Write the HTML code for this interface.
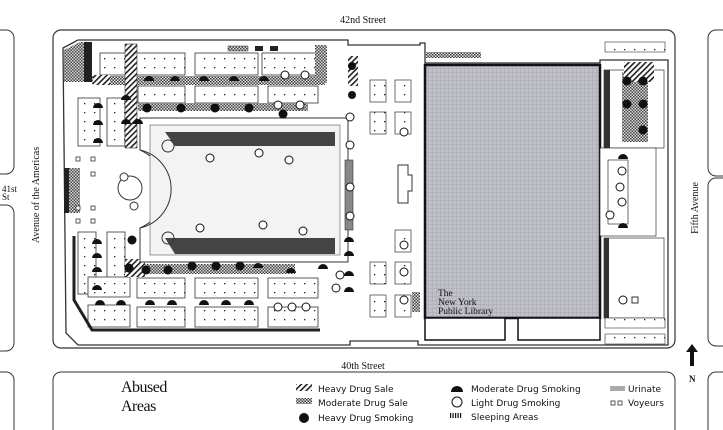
<!DOCTYPE html>
<html><head><meta charset="utf-8"><style>
html,body{margin:0;padding:0;background:#fff;width:723px;height:430px;overflow:hidden}
svg{display:block}
text{font-family:"Liberation Serif",serif;fill:#111}
.s{font-family:"DejaVu Sans","Liberation Sans",sans-serif;font-size:9px}
</style></head><body>
<svg width="723" height="430" viewBox="0 0 723 430" xmlns="http://www.w3.org/2000/svg" style="overflow:hidden">
<defs>
<pattern id="chk" width="3" height="3" patternUnits="userSpaceOnUse"><rect width="3" height="3" fill="#ddd"/><rect width="1.5" height="1.5" fill="#444"/><rect x="1.5" y="1.5" width="1.5" height="1.5" fill="#444"/></pattern>
<pattern id="hat" width="4" height="4" patternUnits="userSpaceOnUse" patternTransform="rotate(45)"><rect width="4" height="4" fill="#fff"/><rect width="1.6" height="4" fill="#222"/></pattern>
<pattern id="grid" width="4" height="4" patternUnits="userSpaceOnUse"><rect width="4" height="4" fill="#bfc0c8"/><rect width="4" height="0.6" fill="#a9aab2"/><rect width="0.6" height="4" fill="#a9aab2"/></pattern>
<pattern id="dots" width="10" height="9" patternUnits="userSpaceOnUse"><rect width="10" height="9" fill="#fff"/><rect x="4" y="4" width="1.3" height="1.3" fill="#222"/></pattern>
</defs>
<rect width="723" height="430" fill="#fff"/>
<text x="363" y="23" font-size="10" text-anchor="middle">42nd Street</text>
<text x="363" y="369" font-size="10" text-anchor="middle">40th Street</text>
<text transform="translate(39,195) rotate(-90)" font-size="10" text-anchor="middle">Avenue of the Americas</text>
<text transform="translate(698,208) rotate(-90)" font-size="10" text-anchor="middle">Fifth Avenue</text>
<text x="2" y="192" font-size="9">41st</text><text x="2" y="200" font-size="9">St</text>
<g fill="none" stroke="#333" stroke-width="1">
<path d="M-20 30H6a8 8 0 0 1 8 8V166a8 8 0 0 1-8 8H-20"/>
<path d="M-20 205H6a8 8 0 0 1 8 8V343a8 8 0 0 1-8 8H-20"/>
<path d="M-20 372H6a8 8 0 0 1 8 8V430"/>
<path d="M740 30H716a8 8 0 0 0-8 8V168a8 8 0 0 0 8 8H740"/>
<path d="M740 178H716a8 8 0 0 0-8 8V338a8 8 0 0 0 8 8H740"/>
<path d="M740 372H716a8 8 0 0 0-8 8V430"/>
<rect x="53" y="30" width="622" height="318" rx="8" stroke-width="1.2"/>
<path d="M53 430V380a8 8 0 0 1 8-8H667a8 8 0 0 1 8 8V430"/>
</g>
<path d="M690 366V352h-4l6-8 6 8h-4v14z" fill="#111"/>
<text x="689" y="382" font-size="9" font-family="Liberation Sans" font-weight="bold">N</text>
<path d="M63 48L78 40h270v5h72v-2h5v20h175v-3h68v285H418v-4H350v4H78l-12-12z" fill="#fff" stroke="#333" stroke-width="1.3"/>
<path d="M64 50L80 42h10v40H64z" fill="url(#chk)"/>
<rect x="84" y="42" width="8" height="40" fill="#222"/>
<g fill="url(#dots)" stroke="#333" stroke-width="0.8">
<rect x="100" y="53" width="85" height="22"/><rect x="195" y="53" width="63" height="22"/><rect x="262" y="53" width="56" height="22"/>
<rect x="138" y="86" width="47" height="17"/><rect x="195" y="86" width="63" height="17"/><rect x="268" y="86" width="50" height="17"/>
<rect x="78" y="98" width="22" height="48"/><rect x="107" y="98" width="18" height="48"/>
<rect x="78" y="232" width="18" height="62"/><rect x="107" y="232" width="18" height="62"/>
<rect x="88" y="277" width="42" height="20"/><rect x="137" y="278" width="48" height="20"/><rect x="195" y="278" width="63" height="20"/><rect x="268" y="278" width="50" height="20"/>
<rect x="88" y="305" width="42" height="22"/><rect x="137" y="307" width="48" height="20"/><rect x="195" y="307" width="63" height="20"/><rect x="268" y="307" width="50" height="20"/>
</g>
<rect x="92" y="76" width="233" height="9" fill="url(#chk)"/>
<rect x="138" y="103" width="170" height="8" fill="url(#chk)"/>
<rect x="125" y="44" width="12" height="104" fill="url(#hat)" stroke="#333" stroke-width="0.6"/>
<rect x="93" y="75" width="17" height="10" fill="url(#hat)"/>
<rect x="315" y="45" width="12" height="38" fill="url(#chk)"/>
<rect x="125" y="259" width="20" height="18" fill="url(#hat)"/>
<rect x="145" y="264" width="150" height="10" fill="url(#chk)"/>
<rect x="64" y="168" width="16" height="45" fill="url(#chk)"/><rect x="64" y="168" width="5" height="45" fill="#222"/>
<path d="M74 236V300L92 330H320" fill="none" stroke="#222" stroke-width="3"/>
<rect x="228" y="46" width="20" height="5" fill="url(#chk)" stroke="#333" stroke-width="0.5"/>
<rect x="255" y="46" width="8" height="5" fill="#222"/><rect x="270" y="46" width="8" height="5" fill="#222"/>
<path d="M140 118H348V262H140V228C158 220 160 210 160 190C160 168 158 158 140 150Z" fill="#fff" stroke="#333" stroke-width="1"/>
<rect x="150" y="125" width="190" height="130" fill="#f3f3f3" stroke="#555" stroke-width="0.6"/>
<path d="M165 132H335V146H175Z" fill="#444"/>
<path d="M165 238H335V254H175Z" fill="#444"/>
<circle cx="168" cy="146" r="6" fill="none" stroke="#333"/><circle cx="168" cy="238" r="6" fill="none" stroke="#333"/>
<path d="M140 150A40 40 0 0 1 140 228" fill="none" stroke="#333" stroke-width="1"/>
<circle cx="130" cy="188" r="12" fill="#fff" stroke="#333"/>
<circle cx="124" cy="177" r="4" fill="#fff" stroke="#333"/><circle cx="134" cy="206" r="4" fill="#fff" stroke="#333"/>
<g fill="#fff" stroke="#333" stroke-width="0.8">
<rect x="76" y="157" width="4" height="4"/><rect x="91" y="157" width="4" height="4"/><rect x="91" y="172" width="4" height="4"/>
<rect x="76" y="206" width="4" height="4"/><rect x="91" y="206" width="4" height="4"/><rect x="76" y="219" width="4" height="4"/><rect x="91" y="219" width="4" height="4"/>
</g>
<rect x="345" y="160" width="8" height="70" fill="#888" stroke="#333" stroke-width="0.6"/>
<rect x="348" y="56" width="10" height="30" fill="url(#hat)"/>
<g fill="url(#dots)" stroke="#333" stroke-width="0.7">
<rect x="370" y="80" width="16" height="22"/><rect x="370" y="112" width="16" height="22"/><rect x="370" y="262" width="16" height="22"/><rect x="370" y="295" width="16" height="22"/>
<rect x="395" y="80" width="16" height="22"/><rect x="395" y="112" width="16" height="22"/><rect x="395" y="230" width="16" height="22"/><rect x="395" y="262" width="16" height="22"/><rect x="395" y="295" width="16" height="22"/>
</g>
<path d="M398 165h10v10h4v16h-4v12h-10z" fill="#fff" stroke="#333"/>
<rect x="412" y="292" width="8" height="20" fill="url(#chk)"/>
<rect x="425" y="65" width="175" height="253" fill="url(#grid)" stroke="#111" stroke-width="2.5"/>
<rect x="426" y="52" width="55" height="6" fill="url(#chk)"/>
<rect x="425" y="318" width="80" height="22" fill="#fff" stroke="#111" stroke-width="1.5"/>
<rect x="518" y="318" width="82" height="22" fill="#fff" stroke="#111" stroke-width="1.5"/>
<text x="438" y="296" font-size="9.5">The</text>
<text x="438" y="305" font-size="9.5">New York</text>
<text x="438" y="314" font-size="9.5">Public Library</text>
<rect x="604" y="70" width="60" height="78" fill="#fff" stroke="#333" stroke-width="0.7"/>
<rect x="604" y="70" width="6" height="78" fill="#333"/>
<rect x="622" y="72" width="26" height="70" fill="url(#chk)"/>
<rect x="624" y="62" width="30" height="20" fill="url(#hat)"/>
<rect x="600" y="148" width="56" height="88" fill="#fff" stroke="#333" stroke-width="0.7"/>
<rect x="608" y="160" width="20" height="64" fill="#fff" stroke="#333" stroke-width="0.7"/>
<rect x="604" y="238" width="60" height="80" fill="#fff" stroke="#333" stroke-width="0.7"/>
<rect x="604" y="238" width="5" height="80" fill="#333"/>
<rect x="632" y="297" width="6" height="6" fill="#fff" stroke="#333"/>
<g fill="url(#dots)" stroke="#333" stroke-width="0.6"><rect x="605" y="318" width="60" height="10"/><rect x="605" y="334" width="60" height="10"/><rect x="605" y="42" width="60" height="10"/></g>
<g fill="#111">
<circle cx="147" cy="108" r="4.5"/><circle cx="181" cy="108" r="4.5"/><circle cx="215" cy="108" r="4.5"/><circle cx="249" cy="108" r="4.5"/><circle cx="283" cy="114" r="4.5"/><circle cx="352" cy="66" r="4"/><circle cx="352" cy="95" r="4"/>
<circle cx="132" cy="240" r="4.5"/><circle cx="129" cy="268" r="4.5"/><circle cx="146" cy="270" r="4.5"/><circle cx="168" cy="270" r="4.5"/><circle cx="192" cy="266" r="4.5"/><circle cx="216" cy="266" r="4.5"/><circle cx="240" cy="266" r="4.5"/>
<circle cx="627" cy="81" r="4.5"/><circle cx="643" cy="81" r="4.5"/><circle cx="627" cy="104" r="4.5"/><circle cx="643" cy="104" r="4.5"/><circle cx="643" cy="130" r="4.5"/>
</g>
<g fill="#111">
<path d="M144 81a5 5 0 0 1 10 0z"/><path d="M170 81a5 5 0 0 1 10 0z"/><path d="M199 81a5 5 0 0 1 10 0z"/><path d="M229 81a5 5 0 0 1 10 0z"/><path d="M259 81a5 5 0 0 1 10 0z"/>
<path d="M93 108a5 5 0 0 1 10 0z"/><path d="M93 125a5 5 0 0 1 10 0z"/><path d="M93 143a5 5 0 0 1 10 0z"/><path d="M121 100a5 5 0 0 1 10 0z"/><path d="M121 124a5 5 0 0 1 10 0z"/><path d="M133 124a5 5 0 0 1 10 0z"/>
<path d="M92 244a5 5 0 0 1 10 0z"/><path d="M92 258a5 5 0 0 1 10 0z"/><path d="M92 272a5 5 0 0 1 10 0z"/><path d="M92 290a5 5 0 0 1 10 0z"/>
<path d="M95 305a5 5 0 0 1 10 0z"/><path d="M116 305a5 5 0 0 1 10 0z"/><path d="M145 305a5 5 0 0 1 10 0z"/><path d="M167 305a5 5 0 0 1 10 0z"/><path d="M199 305a5 5 0 0 1 10 0z"/><path d="M221 305a5 5 0 0 1 10 0z"/><path d="M244 305a5 5 0 0 1 10 0z"/>
<path d="M253 268a5 5 0 0 1 10 0z"/><path d="M286 273a5 5 0 0 1 10 0z"/><path d="M318 269a5 5 0 0 1 10 0z"/>
<path d="M344 242a5 5 0 0 1 10 0z"/><path d="M344 256a5 5 0 0 1 10 0z"/><path d="M344 276a5 5 0 0 1 10 0z"/><path d="M344 292a5 5 0 0 1 10 0z"/>
<path d="M618 159a5 5 0 0 1 10 0z"/><path d="M618 228a5 5 0 0 1 10 0z"/>
</g>
<g fill="#fff" stroke="#111" stroke-width="1">
<circle cx="285" cy="75" r="4"/><circle cx="305" cy="75" r="4"/><circle cx="278" cy="105" r="4"/><circle cx="300" cy="105" r="4"/>
<circle cx="210" cy="158" r="4"/><circle cx="259" cy="153" r="4"/><circle cx="289" cy="160" r="4"/>
<circle cx="200" cy="228" r="4"/><circle cx="263" cy="225" r="4"/><circle cx="303" cy="231" r="4"/>
<circle cx="278" cy="307" r="4"/><circle cx="292" cy="307" r="4"/><circle cx="306" cy="307" r="4"/>
<circle cx="350" cy="117" r="4"/><circle cx="350" cy="145" r="4"/><circle cx="350" cy="187" r="4"/><circle cx="350" cy="216" r="4"/><circle cx="340" cy="275" r="4"/><circle cx="336" cy="288" r="4"/>
<circle cx="404" cy="132" r="4"/><circle cx="404" cy="245" r="4"/><circle cx="404" cy="272" r="4"/><circle cx="404" cy="300" r="4"/>
<circle cx="622" cy="171" r="4"/><circle cx="620" cy="187" r="4"/><circle cx="622" cy="202" r="4"/><circle cx="610" cy="215" r="4"/><circle cx="623" cy="300" r="4"/>
</g>
<text x="121" y="392" font-size="16" letter-spacing="-0.5">Abused</text>
<text x="121" y="411" font-size="16" letter-spacing="-0.5">Areas</text>
<rect x="296" y="384" width="16" height="7" fill="url(#hat)"/>
<rect x="296" y="398" width="16" height="6" fill="url(#chk)"/>
<circle cx="304" cy="418" r="5" fill="#111"/>
<text class="s" x="318" y="392">Heavy Drug Sale</text>
<text class="s" x="318" y="406">Moderate Drug Sale</text>
<text class="s" x="318" y="421">Heavy Drug Smoking</text>
<path d="M451 392a6 6 0 0 1 12 0z" fill="#111"/>
<circle cx="457" cy="402" r="5" fill="#fff" stroke="#111"/>
<g fill="#111"><rect x="450" y="413" width="1.2" height="5"/><rect x="452.5" y="413" width="1.2" height="5"/><rect x="455" y="413" width="1.2" height="5"/><rect x="457.5" y="413" width="1.2" height="5"/><rect x="460" y="413" width="1.2" height="5"/></g>
<text class="s" x="471" y="392">Moderate Drug Smoking</text>
<text class="s" x="471" y="406">Light Drug Smoking</text>
<text class="s" x="471" y="420">Sleeping Areas</text>
<rect x="610" y="386" width="15" height="5" fill="#aaa"/>
<rect x="611" y="401" width="4" height="4" fill="#fff" stroke="#333" stroke-width="0.8"/><rect x="618" y="401" width="4" height="4" fill="#fff" stroke="#333" stroke-width="0.8"/>
<text class="s" x="628" y="392">Urinate</text>
<text class="s" x="628" y="406">Voyeurs</text>
</svg>
</body></html>
